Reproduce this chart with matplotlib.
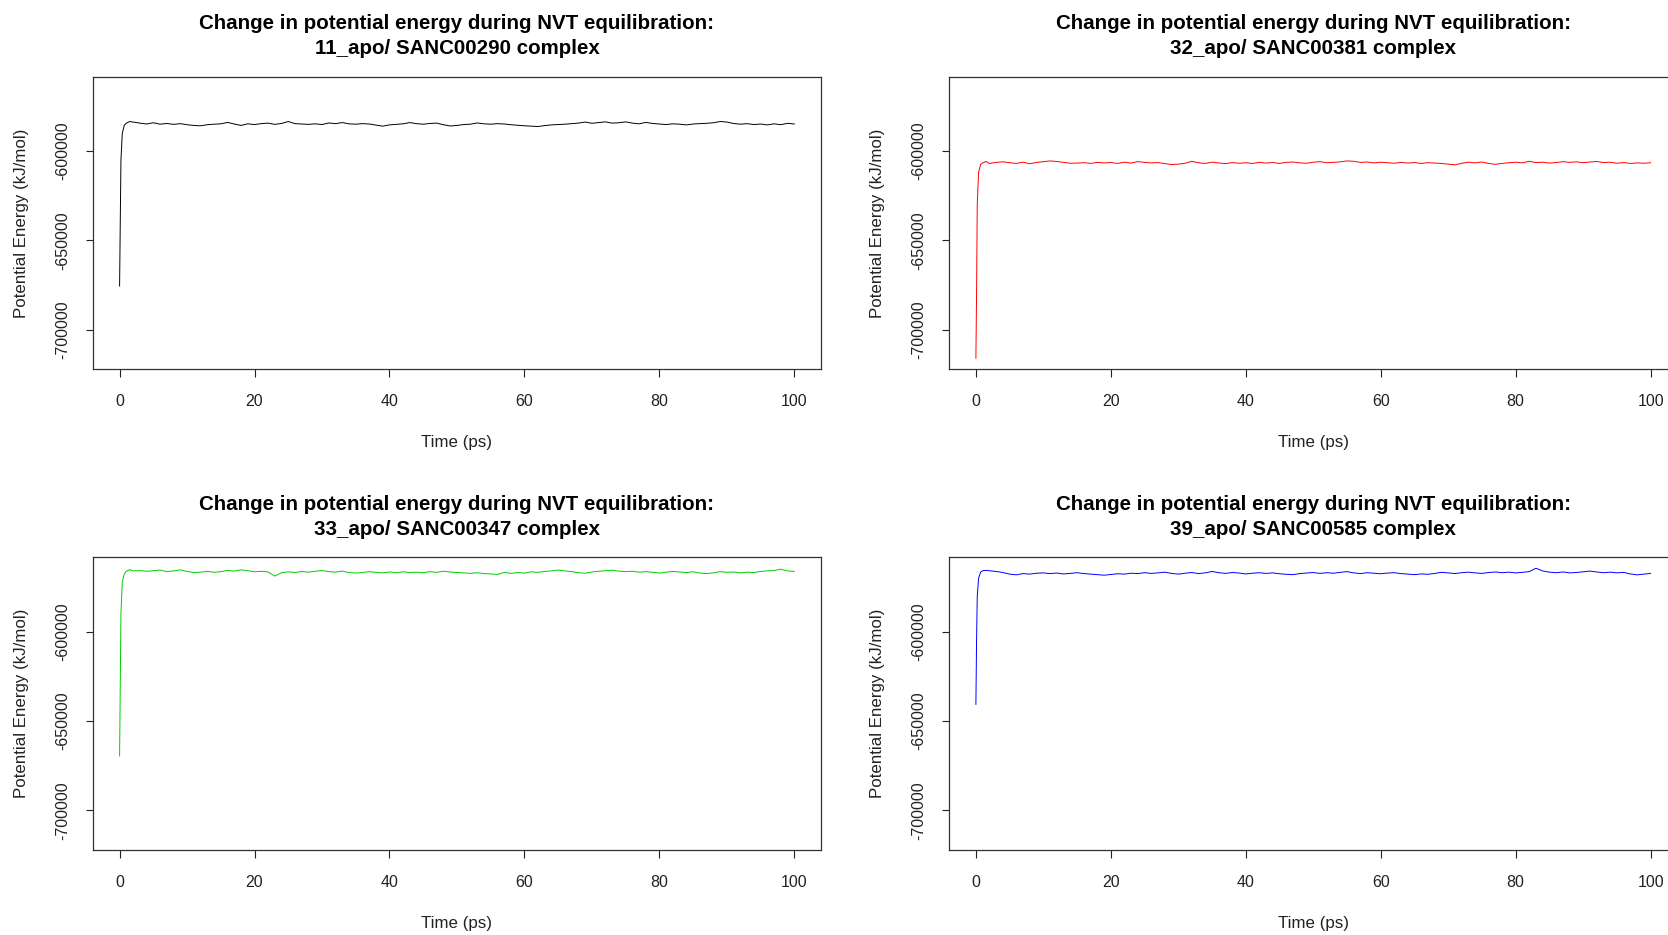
import matplotlib
matplotlib.use("Agg")
import matplotlib.pyplot as plt
import numpy as np

plt.rcParams['font.family'] = ['Liberation Sans', 'DejaVu Sans']
plt.rcParams['axes.unicode_minus'] = False

# ---------------- data ----------------
time_early = [0, 0.1, 0.2, 0.4, 0.7, 1, 1.5]
time_ps = np.array(time_early + list(range(2, 101)), dtype=float)

energy_11_apo = [
    -675600, -640000, -605000, -590000, -585500, -584300, -583400,
    -583700, -584300, -584800, -584100, -584900, -584500, -585000, -584600, -585200,
    -585600, -585800, -585200, -584900, -584700, -583900, -584800, -585600, -584700,
    -585100, -584600, -584300, -585000, -584500, -583400, -584600, -584800, -585000,
    -584700, -585100, -584200, -584600, -584000, -584700, -584900, -584600, -584800,
    -585400, -586000, -585300, -585000, -584700, -584000, -584600, -584900, -584500,
    -584300, -585200, -585900, -585600, -585100, -584900, -584200, -584700, -584900,
    -584600, -584800, -585200, -585500, -585800, -586000, -586200, -585700, -585300,
    -585100, -584900, -584600, -584300, -583700, -584400, -584000, -583600, -584300,
    -584100, -583600, -584300, -584700, -583900, -584500, -584800, -585100, -584700,
    -584900, -585300, -584800, -584600, -584400, -584100, -583400, -583700, -584500,
    -584900, -584600, -585100, -584800, -585300, -584700, -585200, -584400, -584800,
]

energy_32_apo = [
    -716100, -680000, -630000, -612000, -607500, -606600, -605800,
    -606900, -606300, -606000, -606500, -606900, -606200, -607100, -606300, -605900,
    -605500, -605800, -606300, -606800, -606700, -606500, -606900, -606300, -606600,
    -606400, -606900, -606200, -606700, -605900, -606300, -606600, -606400, -607000,
    -607500, -607300, -606800, -605700, -606500, -606900, -606200, -606600, -607000,
    -606400, -606800, -606500, -606900, -606300, -606700, -606400, -606900, -606300,
    -606100, -606600, -606800, -606200, -605900, -606500, -606300, -606000, -605500,
    -605700, -606300, -606100, -606600, -606200, -606500, -606800, -606300, -606700,
    -606400, -606900, -606500, -606700, -606900, -607300, -607700, -606800, -606200,
    -606600, -606100, -606900, -607400, -606900, -606500, -606200, -606600, -605700,
    -606400, -606200, -606700, -606400, -605900, -606300, -606000, -606500, -606100,
    -605800, -606400, -606200, -606800, -606400, -606900, -606600, -606800, -606500,
]

energy_33_apo = [
    -669500, -630000, -590000, -572000, -567500, -566000, -565100,
    -565800, -565600, -566000, -565700, -565300, -566200, -565800, -565200, -566100,
    -566700, -566500, -566000, -566600, -566200, -565500, -565900, -565200, -565700,
    -566300, -566000, -566400, -568700, -566800, -566300, -566700, -566100, -566500,
    -566000, -565600, -566200, -566500, -565900, -566700, -567000, -566700, -566200,
    -566600, -566900, -566400, -566800, -566300, -566700, -566500, -566800, -566200,
    -566600, -566000, -566400, -566700, -566900, -567200, -566800, -567300, -567500,
    -567800, -566600, -567200, -566700, -567000, -566300, -566600, -566100, -565800,
    -565300, -565800, -566200, -566800, -567100, -566400, -566000, -565700, -565400,
    -565900, -566200, -566000, -566500, -566200, -566600, -567000, -566500, -566100,
    -566400, -566700, -566300, -567000, -567300, -566900, -566200, -566600, -566400,
    -566900, -566500, -566700, -566100, -565800, -565600, -564800, -565800, -566100,
]

energy_39_apo = [
    -640600, -605000, -580000, -570000, -566500, -565700, -565500,
    -565700, -566100, -566700, -567600, -568000, -567300, -567600, -567100, -566900,
    -567300, -567000, -567500, -567200, -566800, -567300, -567600, -567900, -568200,
    -567800, -567400, -567600, -567100, -567300, -566800, -567200, -566900, -566500,
    -567200, -567600, -567100, -566700, -567300, -566900, -566100, -566800, -567200,
    -566700, -567000, -567500, -567100, -566800, -567200, -566900, -567400, -567700,
    -567900, -567300, -567000, -566700, -567200, -566800, -567100, -566600, -566200,
    -566900, -567300, -566800, -567100, -567400, -567000, -566800, -567300, -567600,
    -567900, -567500, -567700, -567200, -566600, -566900, -567300, -566800, -566500,
    -566900, -567200, -566700, -566400, -566800, -566500, -566900, -566600, -566200,
    -564300, -565800, -566500, -566800, -566400, -566900, -566700, -566300, -565900,
    -566400, -566800, -566500, -566900, -566600, -567500, -568000, -567600, -567200,
]

system_names = ["11_apo/ SANC00290 complex", "32_apo/ SANC00381 complex",
                "33_apo/ SANC00347 complex", "39_apo/ SANC00585 complex"]
series = [energy_11_apo, energy_32_apo, energy_33_apo, energy_39_apo]
line_colors = ["#000000", "#FF0000", "#00CD00", "#0000FF"]

x_ticks = [0, 20, 40, 60, 80, 100]
y_ticks = [-700000, -650000, -600000]
title_line1 = "Change in potential energy during NVT equilibration:"
x_label = "Time (ps)"
y_label = "Potential Energy (kJ/mol)"

# ---------------- layout ----------------
W, H = 1668, 935
fig = plt.figure(figsize=(W / 100, H / 100), dpi=100)
fig.patch.set_facecolor("white")

all_vals = np.concatenate([np.asarray(s, float) for s in series])
vmin, vmax = all_vals.min(), all_vals.max()
pad = 0.04 * (vmax - vmin)
ylim = (vmin - pad, vmax + pad)

box_w, box_h = 728.7, 292.5
lefts = [92.6, 948.9]
tops = [76.6, 557.4]

for i, (name, vals, col) in enumerate(zip(system_names, series, line_colors)):
    r, c = divmod(i, 2)
    L, T = lefts[c], tops[r]
    ax = fig.add_axes([L / W, 1 - (T + box_h) / H, box_w / W, box_h / H])
    ax.plot(time_ps, vals, color=col, lw=0.7)
    ax.set_xlim(-4, 104)
    ax.set_ylim(*ylim)
    ax.set_xticks(x_ticks)
    ax.set_xticklabels([str(v) for v in x_ticks])
    ax.set_yticks(y_ticks)
    ax.set_yticklabels([str(v) for v in y_ticks], rotation=90, va="center")
    ax.tick_params(axis="both", direction="out", length=5.4, width=0.8,
                   labelsize=11.5, colors="#222222")
    ax.tick_params(axis="x", pad=12.5)
    ax.tick_params(axis="y", pad=11)
    for sp in ax.spines.values():
        sp.set_linewidth(0.9)
        sp.set_color("#333333")

    cx = (L + box_w / 2) / W
    ty1 = T - 52.8
    ty2 = T - 28.2
    fig.text(cx, 1 - ty1 / H, title_line1, ha="center", va="center",
             fontsize=14.8, fontweight="bold")
    fig.text(cx, 1 - ty2 / H, name, ha="center", va="center",
             fontsize=14.8, fontweight="bold")
    fig.text(cx, 1 - (T + box_h + 73.4) / H, x_label, ha="center", va="center",
             fontsize=12.2, color="#222222")
    fig.text((L - 71.3) / W, 1 - (T + box_h / 2) / H, y_label, ha="center",
             va="center", rotation=90, fontsize=12.2, color="#222222")

fig.savefig("out.png", dpi=100)
